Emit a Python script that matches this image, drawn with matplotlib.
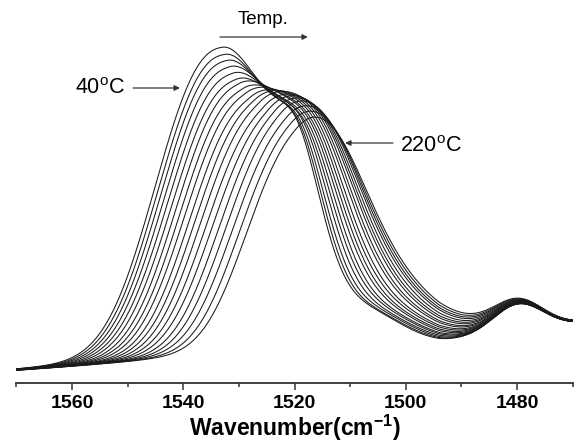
import numpy as np
import matplotlib
matplotlib.use("Agg")
import matplotlib.pyplot as plt

plt.rcParams['font.family'] = ['Liberation Sans', 'DejaVu Sans']
plt.rcParams['mathtext.fontset'] = 'custom'
plt.rcParams['mathtext.rm'] = 'Liberation Sans'
plt.rcParams['mathtext.bf'] = 'Liberation Sans:bold'

# ---- data: band parameters, one entry per temperature ----
temps = [40, 50, 60, 70, 80, 90, 100, 110, 120, 130, 140, 150, 160, 170, 180, 190, 200, 210, 220]
# main amide band
bandA_pos = [1533.0, 1532.6, 1532.16, 1531.68, 1531.15, 1530.59, 1529.98, 1529.33, 1528.65, 1527.92,
             1527.15, 1526.34, 1525.48, 1524.59, 1523.66, 1522.68, 1521.66, 1520.6, 1519.5]
bandA_height = [310, 302, 295, 287, 279, 271, 264, 256, 249, 241, 234, 227, 219, 212, 205, 198, 190, 183, 176]
bandA_wleft = [11.5, 11.4, 11.3, 11.2, 11.1, 11.0, 10.85, 10.75, 10.65, 10.5,
               10.4, 10.3, 10.2, 10.1, 9.95, 9.85, 9.75, 9.6, 9.5]
bandA_wright = [10.6, 10.5, 10.4, 10.35, 10.25, 10.2, 10.1, 10.0, 9.9, 9.85,
                9.8, 9.7, 9.6, 9.5, 9.4, 9.35, 9.3, 9.2, 9.1]
# shoulder band
bandB_pos = [1519.0, 1518.6, 1518.2, 1517.8, 1517.3, 1516.9, 1516.5, 1516.1, 1515.7, 1515.3,
             1514.8, 1514.4, 1513.9, 1513.5, 1513.1, 1512.7, 1512.3, 1511.9, 1511.5]
bandB_height = [95, 98, 101, 104, 106, 108, 110, 111, 112, 112, 111, 110, 108, 105, 101, 96, 90, 83, 76]
bandB_width = [4.3, 4.5, 4.7, 5.0, 5.2, 5.4, 5.7, 5.9, 6.1, 6.3, 6.6, 6.8, 7.0, 7.2, 7.4, 7.6, 7.8, 8.0, 8.2]
bandB_lorentz = [0.20, 0.22, 0.23, 0.25, 0.27, 0.28, 0.30, 0.32, 0.33, 0.35,
                 0.37, 0.38, 0.40, 0.42, 0.43, 0.45, 0.47, 0.48, 0.50]
# low-frequency tail band
bandD_pos = [1506.0, 1505.7, 1505.4, 1505.2, 1504.9, 1504.6, 1504.3, 1504.1, 1503.8, 1503.5,
             1503.2, 1502.9, 1502.7, 1502.4, 1502.1, 1501.8, 1501.6, 1501.3, 1501.0]
bandD_height = [22, 22, 23, 23, 24, 24, 25, 25, 26, 26, 27, 27, 28, 28, 29, 30, 30, 31, 32]
bandD_width = [6.0, 6.2, 6.4, 6.7, 6.9, 7.1, 7.3, 7.6, 7.8, 8.0, 8.2, 8.4, 8.7, 8.9, 9.1, 9.3, 9.6, 9.8, 10.0]
# small band near 1480
bandC_pos = 1479.8
bandC_height = [28, 28, 28, 28, 28, 28, 28, 28, 28, 28, 28, 28, 28, 28, 28, 28, 28, 28, 28]
bandC_width = 4.5
# baseline
baseline_x = [1470, 1494, 1570]
baseline_y = [57, 36, 11]
x_range = [1570, 1470]

wn = np.linspace(x_range[0], x_range[1], 1000)


def band_asym(x, c, h, wl, wr, eta_l=0.08, eta_r=0.15, p_left=2.4):
    d = x - c
    lor_l = 1.0 / (1.0 + (d / (wl * 1.1774)) ** 2)
    left = (1 - eta_l) * np.exp(-0.5 * np.abs(d / wl) ** p_left) + eta_l * lor_l
    g = np.exp(-0.5 * (d / wr) ** 2)
    lor = 1.0 / (1.0 + (d / (wr * 1.1774)) ** 2)
    right = (1 - eta_r) * g + eta_r * lor
    return h * np.where(d > 0, left, right)


def band_pv(x, c, h, s, eta=0.0):
    d = x - c
    g = np.exp(-0.5 * (d / s) ** 2)
    lor = 1.0 / (1.0 + (d / (s * 1.1774)) ** 2)
    return h * ((1 - eta) * g + eta * lor)


base = np.interp(wn, baseline_x, baseline_y)

fig = plt.figure(figsize=(5.74, 4.48), dpi=100)
ax = fig.add_axes([16.4 / 574, 65 / 448, 556.2 / 574, 383 / 448])

for i, t in enumerate(temps):
    y = (base
         + band_asym(wn, bandA_pos[i], bandA_height[i], bandA_wleft[i], bandA_wright[i])
         + band_pv(wn, bandB_pos[i], bandB_height[i], bandB_width[i], bandB_lorentz[i])
         + band_pv(wn, bandD_pos[i], bandD_height[i], bandD_width[i])
         + band_pv(wn, bandC_pos, bandC_height[i], bandC_width))
    ax.plot(wn, y, color='#1a1a1a', lw=0.75)

ax.set_xlim(x_range[0], x_range[1])
ax.set_ylim(0, 383)
for s in ['left', 'right', 'top']:
    ax.spines[s].set_visible(False)
ax.spines['bottom'].set_linewidth(1.3)
ax.spines['bottom'].set_color('#333333')
ax.set_yticks([])
ax.set_xticks([1560, 1540, 1520, 1500, 1480])
ax.set_xticks([1570, 1550, 1530, 1510, 1490, 1470], minor=True)
ax.tick_params(axis='x', which='major', length=5, width=1.1, color='#333333', pad=3.5,
               labelsize=14)
ax.tick_params(axis='x', which='minor', length=3, width=1.1, color='#333333')
for lab in ax.get_xticklabels():
    lab.set_fontweight('bold')
ax.set_xlabel(r'Wavenumber(cm$^{\mathbf{-1}}$)', fontsize=16.5, fontweight='bold', labelpad=1)

arrow_kw = dict(arrowstyle='-|>', color='#333333', lw=0.9, mutation_scale=8, shrinkA=0, shrinkB=0)
ax.annotate('', xy=(1517.6, 346), xytext=(1533.4, 346), arrowprops=arrow_kw)
ax.text(1525.7, 364, 'Temp.', fontsize=13.5, ha='center', va='center')
ax.annotate('', xy=(1540.6, 295), xytext=(1549.0, 295), arrowprops=arrow_kw)
ax.text(1559.5, 295, r'40$^{\mathrm{o}}$C', fontsize=15.5, ha='left', va='center')
ax.annotate('', xy=(1510.9, 240), xytext=(1502.3, 240), arrowprops=arrow_kw)
ax.text(1501.0, 236, r'220$^{\mathrm{o}}$C', fontsize=15.5, ha='left', va='center')

fig.savefig('out.png', dpi=100)
